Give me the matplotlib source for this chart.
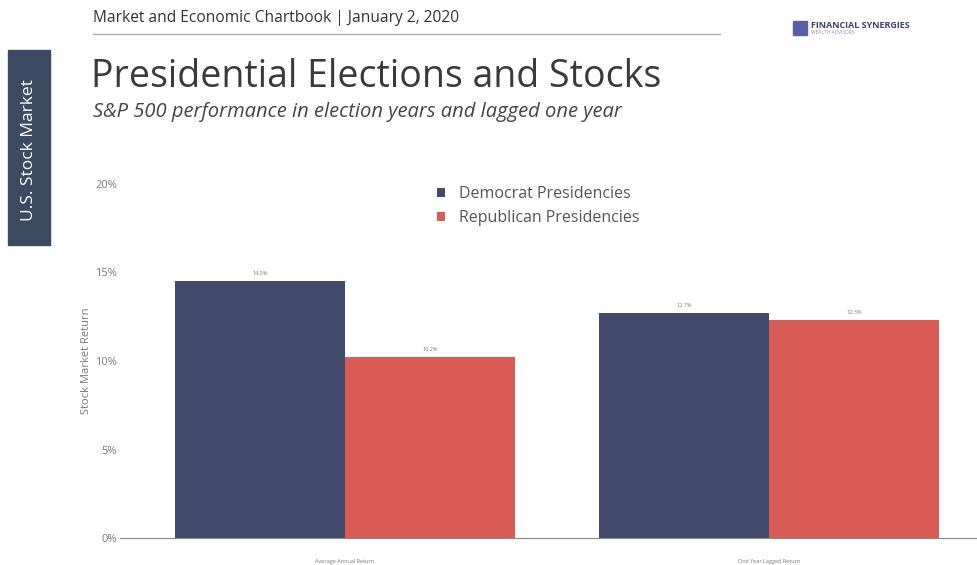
import numpy as np
from matplotlib import pyplot as plt
from matplotlib.patches import Rectangle

plt.rcParams['font.family'] = ['Open Sans', 'DejaVu Sans']

categories = ['Average Annual Return', 'One Year Lagged Return']
democrat = [14.5, 12.7]
republican = [10.2, 12.3]
value_labels_dem = ['14.5%', '12.7%']
value_labels_rep = ['10.2%', '12.3%']
y_ticks = [0, 5, 10, 15, 20]
y_tick_labels = ['0%', '5%', '10%', '15%', '20%']

dem_color = '#414a6a'
rep_color = '#d95b55'
grey_text = '#7a7a7a'

fig = plt.figure(figsize=(9.77, 5.65), dpi=100)
fig.patch.set_facecolor('white')

# header strip
fig.text(93 / 977, 1 - 18 / 565, 'Market and Economic Chartbook | January 2, 2020',
         fontsize=11.2, color='#333333', va='center', ha='left')
fig.add_artist(plt.Line2D([93 / 977, 720 / 977], [1 - 34 / 565, 1 - 34 / 565],
                          color='#b0b0b0', lw=1))

# logo
fig.add_artist(Rectangle((793 / 977, 1 - 35 / 565), 14 / 977, 14 / 565,
                         color='#5a5ea8', transform=fig.transFigure))
fig.text(811 / 977, 1 - 26 / 565, 'FINANCIAL SYNERGIES', fontsize=6.5,
         color='#3d4270', fontweight='bold', va='center', ha='left')
fig.text(811 / 977, 1 - 32.5 / 565, 'WEALTH ADVISORS', fontsize=3.5,
         color='#8a8fb0', va='center', ha='left')

# side tab
fig.add_artist(Rectangle((8 / 977, 1 - 245 / 565), 42 / 977, 195 / 565,
                         color='#3c4a62', transform=fig.transFigure))
fig.text(29 / 977, 1 - 150 / 565, 'U.S. Stock Market', rotation=90,
         fontsize=12.5, color='white', va='center', ha='center')

# titles
fig.text(91 / 977, 1 - 77 / 565, 'Presidential Elections and Stocks',
         fontsize=27, color='#3a3a3a', va='center', ha='left')
fig.text(93 / 977, 1 - 112 / 565,
         'S&P 500 performance in election years and lagged one year',
         fontsize=14.5, style='italic', color='#444444', va='center', ha='left')

ax = fig.add_axes([120 / 977, 1 - 538 / 565, 857 / 977, (538 - 184) / 565])
x = np.arange(len(categories))
w = 0.4
bars_d = ax.bar(x - w / 2, democrat, w, color=dem_color, label='Democrat Presidencies')
bars_r = ax.bar(x + w / 2, republican, w, color=rep_color, label='Republican Presidencies')

for b, t in zip(bars_d, value_labels_dem):
    ax.text(b.get_x() + b.get_width() / 2, b.get_height() + 0.3, t,
            ha='center', va='bottom', fontsize=4, color=grey_text)
for b, t in zip(bars_r, value_labels_rep):
    ax.text(b.get_x() + b.get_width() / 2, b.get_height() + 0.3, t,
            ha='center', va='bottom', fontsize=4, color=grey_text)

ax.set_xlim(-0.53, 1.49)
ax.set_ylim(0, 20)
ax.set_yticks(y_ticks)
ax.set_yticklabels(y_tick_labels, fontsize=8, color=grey_text)
ax.set_xticks(x)
ax.set_xticklabels(categories, fontsize=4, color=grey_text)
ax.tick_params(axis='x', length=0, pad=15)
ax.tick_params(axis='y', length=0, pad=2)
for s in ['top', 'right', 'left']:
    ax.spines[s].set_visible(False)
ax.spines['bottom'].set_color('#888888')
ax.spines['bottom'].set_linewidth(0.8)
ax.set_ylabel('Stock Market Return', fontsize=8, color=grey_text)
ax.yaxis.set_label_coords(-0.033, 0.5)

fig.legend(loc='upper left', bbox_to_anchor=(423 / 977, 1 - 172 / 565),
           frameon=False, fontsize=11.5, labelcolor='#555555',
           handlelength=0.45, handleheight=0.45, handletextpad=0.9,
           labelspacing=0.5)

fig.savefig('out.png', dpi=100)
